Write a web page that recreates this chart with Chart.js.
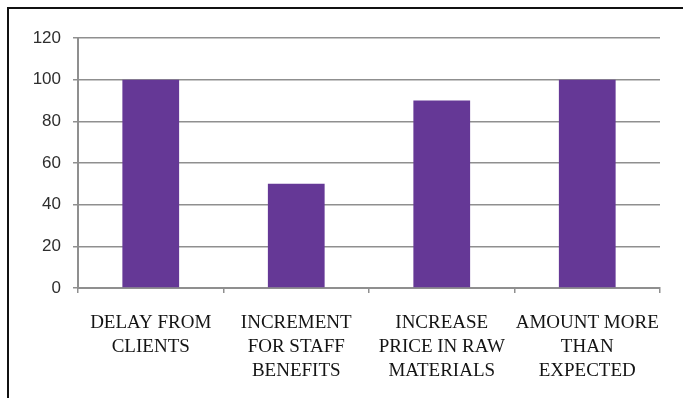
<!DOCTYPE html>
<html>
<head>
<meta charset="utf-8">
<script src="https://cdn.jsdelivr.net/npm/chart.js@4/dist/chart.umd.min.js"></script>
<style>
  html, body { margin: 0; padding: 0; background: #fff; overflow: hidden; }
  #wrap { position: relative; width: 683px; height: 398px; }
  #frame {
    position: absolute; left: 7px; top: 7px; right: -10px; bottom: -10px;
    border-left: 2px solid #111; border-top: 2px solid #111;
    pointer-events: none;
  }
</style>
</head>
<body>
<div id="wrap">
  <canvas id="costChart" width="683" height="398"></canvas>
  <div id="frame"></div>
</div>
<script>
// causes of cost overrun, survey counts
var categories = [
  ['DELAY FROM', 'CLIENTS'],
  ['INCREMENT', 'FOR STAFF', 'BENEFITS'],
  ['INCREASE', 'PRICE IN RAW', 'MATERIALS'],
  ['AMOUNT MORE', 'THAN', 'EXPECTED']
];
var values = [100, 50, 90, 100];
var yTicks = [0, 20, 40, 60, 80, 100, 120];

var gridGrey = '#8f8f8f';

new Chart(document.getElementById('costChart'), {
  type: 'bar',
  data: {
    labels: categories,
    datasets: [{
      data: values,
      backgroundColor: '#653896',
      borderWidth: 0,
      barPercentage: 0.39,
      categoryPercentage: 1
    }]
  },
  options: {
    responsive: false,
    animation: false,
    layout: { padding: { left: 0, top: 38, right: 23, bottom: 0 } },
    plugins: { legend: { display: false }, tooltip: { enabled: false } },
    scales: {
      x: {
        grid: { offset: true, drawOnChartArea: false, color: gridGrey, lineWidth: 1.5, tickLength: 5 },
        border: { color: gridGrey, width: 2 },
        ticks: {
          color: '#141414',
          padding: 18,
          maxRotation: 0,
          autoSkip: false,
          font: { family: '"Liberation Serif", "Times New Roman", serif', size: 19, lineHeight: 1.27 }
        },
        afterFit: function(scale) { scale.height = 110; }
      },
      y: {
        min: 0,
        max: 120,
        afterBuildTicks: function(scale) {
          scale.ticks = yTicks.map(function(v) { return { value: v }; });
        },
        grid: { color: gridGrey, lineWidth: 1.5, tickLength: 5 },
        border: { color: gridGrey, width: 2 },
        ticks: {
          color: '#2e2e2e',
          padding: 12,
          font: { family: '"Liberation Sans", Arial, sans-serif', size: 17 }
        },
        afterFit: function(scale) { scale.width = 78; }
      }
    }
  }
});
</script>
</body>
</html>
